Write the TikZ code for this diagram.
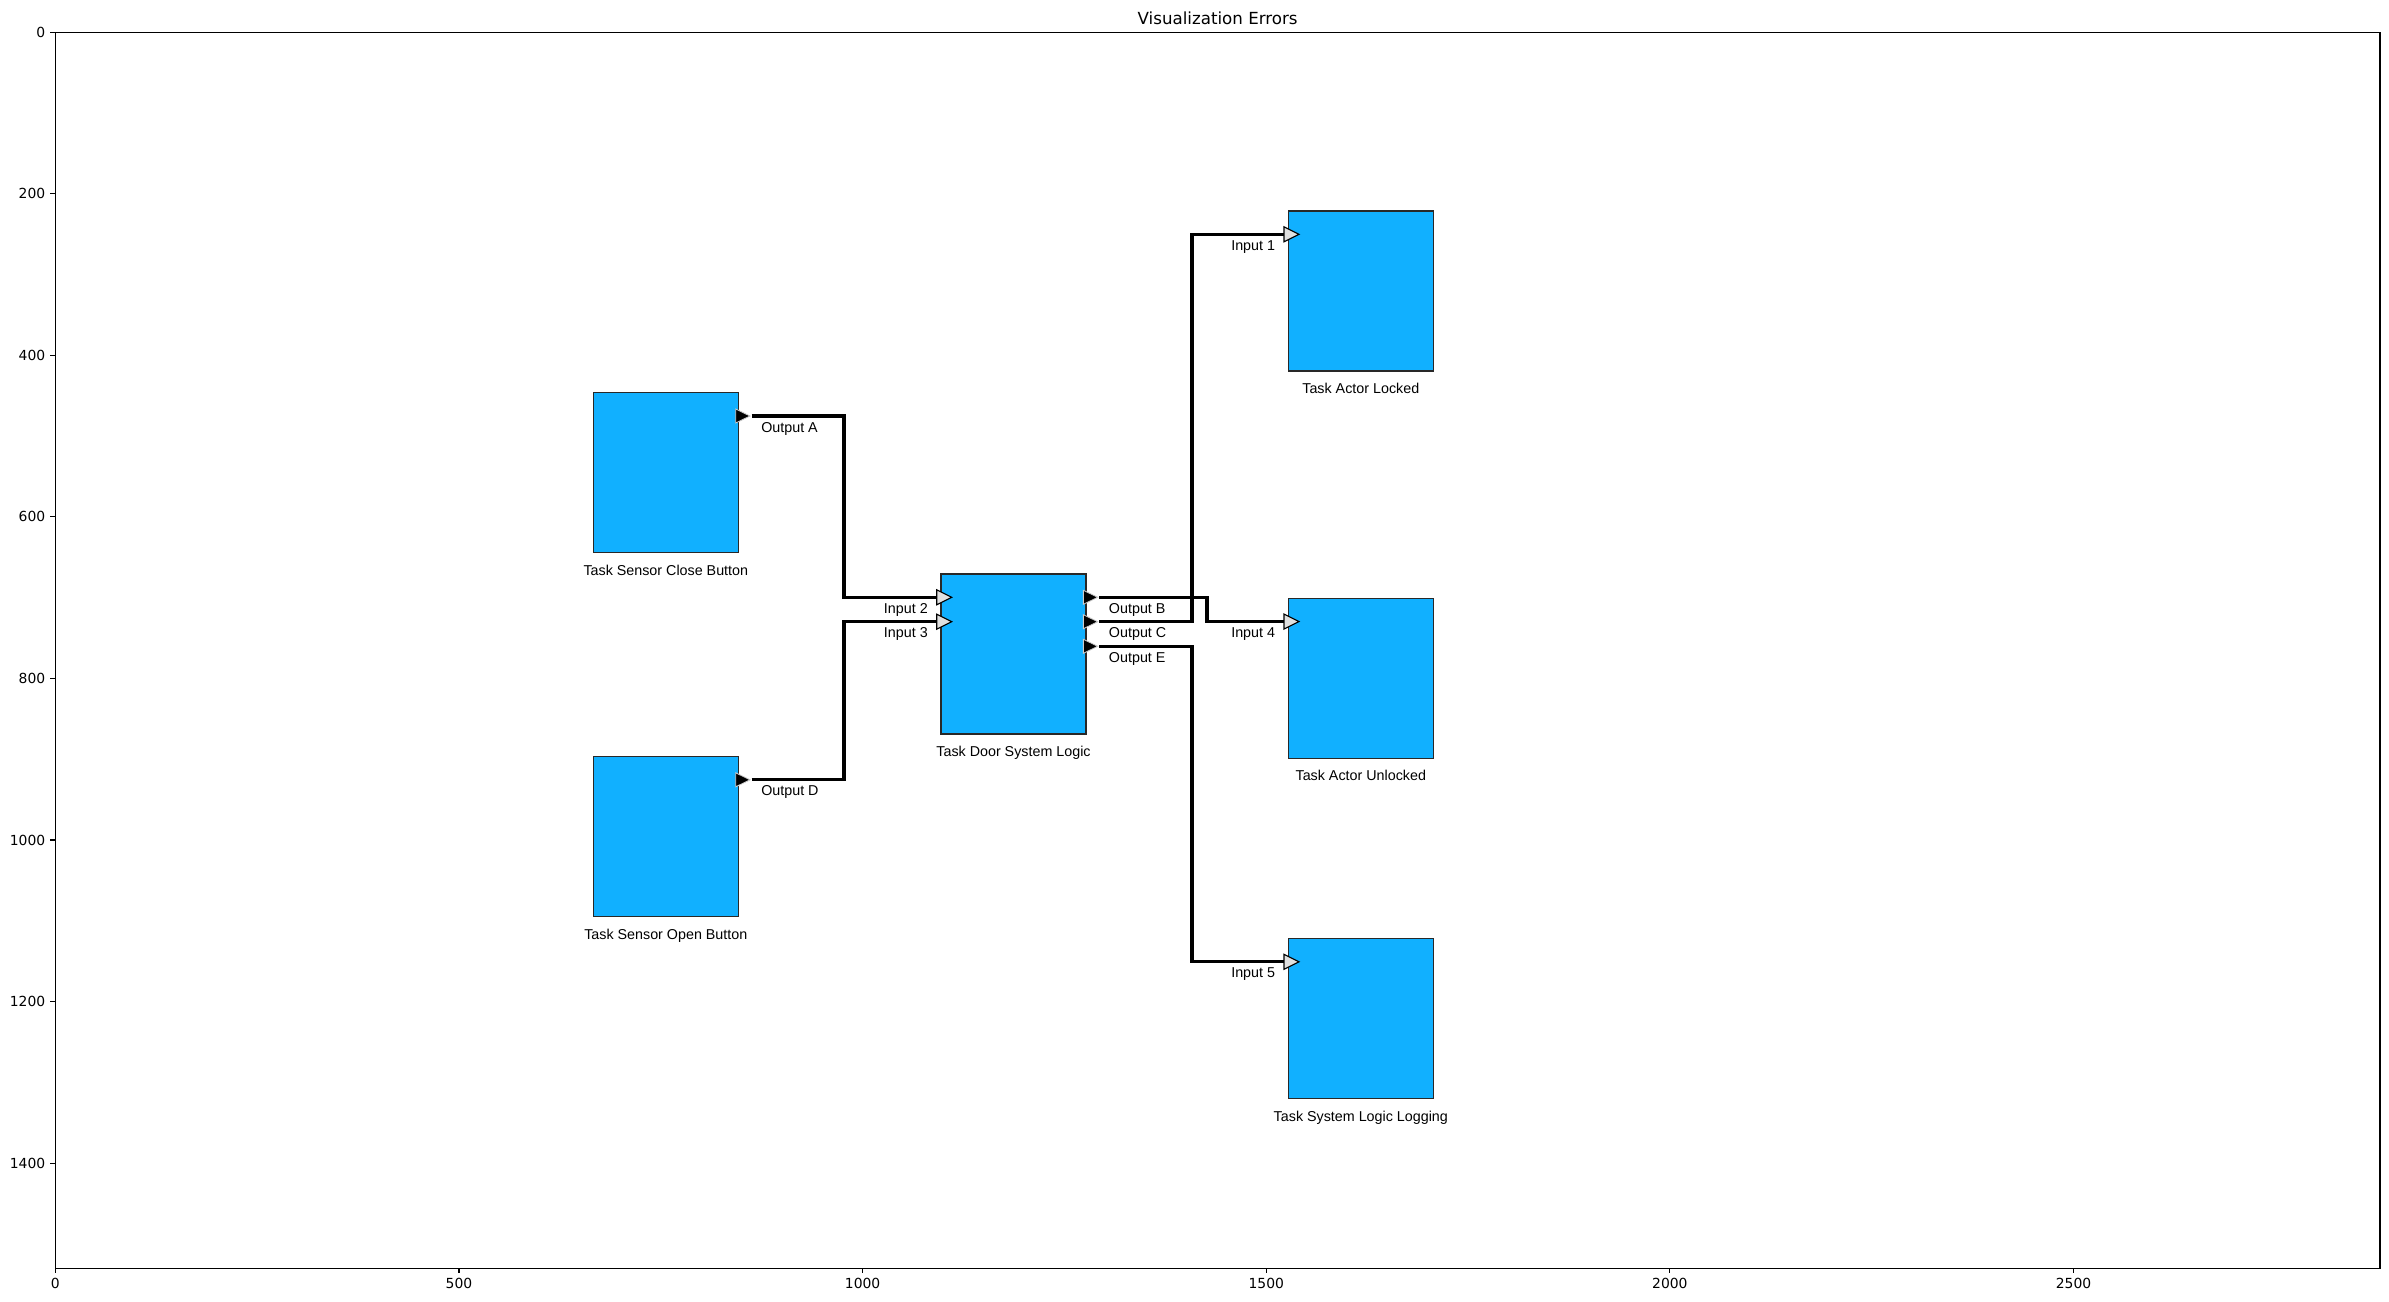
\documentclass[tikz,border=0pt]{standalone}
\usepackage{fontspec}
\setmainfont{DejaVu Sans}
\newfontfamily\arialf{Liberation Sans}
\usetikzlibrary{calc}
\definecolor{taskblue}{RGB}{17,176,255}
\definecolor{boxedge}{RGB}{40,40,40}
\begin{document}
\begin{tikzpicture}[x=0.72pt,y=-0.72pt,
 taskbox/.style={draw=boxedge,fill=taskblue,line width=1pt,minimum width=104.4pt,minimum height=115.2pt,inner sep=0pt,outer sep=0pt,anchor=north west},
 wire/.style={line width=2.4pt,black},
 outtri/.style={fill=black,draw=white!80!black,line width=0.6pt},
 intri/.style={fill=white!88!black,draw=black,line width=0.8pt},
 plabel/.style={font=\arialf\fontsize{10.3}{12}\selectfont,inner sep=0pt},
 axtick/.style={line width=0.8pt},
 ticklabel/.style={font=\fontsize{10}{12}\selectfont,inner sep=0pt},
 outport/.pic={\draw[outtri] (-2.6,-7) -- (11.7,0) -- (-2.6,7) -- cycle;},
 inport/.pic={\draw[intri] (-4.3,-7.5) -- (10.7,0) -- (-4.3,7.5) -- cycle;}]

\useasboundingbox (0,0) rectangle (2389,1302);
\fill[white] (0,0) rectangle (2389,1302);

% axes frame, ticks, title
\draw[line width=0.8pt] (55.3,32.3) rectangle (2380,1268.3);
\foreach \v in {0,500,...,2500} {
  \draw[axtick] ({55.3+0.8073*\v},1268.3) -- ++(0,4.9);
  \node[ticklabel,anchor=north] (xt\v) at ({55.3+0.8073*\v},1278.1) {\v};
}
\foreach \v in {0,200,...,1400} {
  \draw[axtick] (55.3,{32.3+0.8077*\v}) -- ++(-4.9,0);
  \node[ticklabel,anchor=east] (yt\v) at (45.5,{32.3+0.8077*\v}) {\v};
}
\node[font=\fontsize{12}{14}\selectfont,anchor=base,inner sep=0pt] (title) at (1217.6,24) {Visualization Errors};

% boxes
\node[taskbox] (close) at (593.3,392.7) {};
\node[taskbox] (open) at (593.3,756.5) {};
\node[taskbox] (door) at (941,574) {};
\node[taskbox] (lock) at (1288.3,211) {};
\node[taskbox] (unlock) at (1288.3,598.3) {};
\node[taskbox] (logging) at (1288.3,938.5) {};

% box labels
\node[plabel,anchor=base] (tclose) at ($(close.south)+(0,22.5)$) {Task Sensor Close Button};
\node[plabel,anchor=base] (topen) at ($(open.south)+(0,22.5)$) {Task Sensor Open Button};
\node[plabel,anchor=base] (tdoor) at ($(door.south)+(0,22.5)$) {Task Door System Logic};
\node[plabel,anchor=base] (tlock) at ($(lock.south)+(0,22.5)$) {Task Actor Locked};
\node[plabel,anchor=base] (tunlock) at ($(unlock.south)+(0,22.5)$) {Task Actor Unlocked};
\node[plabel,anchor=base] (tlogging) at ($(logging.south)+(0,22.5)$) {Task System Logic Logging};

% port points
\coordinate (pA) at ($(close.north east)+(0,23.3)$);
\coordinate (pD) at ($(open.north east)+(0,23.3)$);
\coordinate (pB) at ($(door.north east)+(0,23.3)$);
\coordinate (pC) at ($(door.north east)+(0,47.7)$);
\coordinate (pE) at ($(door.north east)+(0,72.3)$);
\coordinate (p2) at ($(door.north west)+(0,23.3)$);
\coordinate (p3) at ($(door.north west)+(0,47.7)$);
\coordinate (p1) at ($(lock.north west)+(0,23.3)$);
\coordinate (p4) at ($(unlock.north west)+(0,23.3)$);
\coordinate (p5) at ($(logging.north west)+(0,23.3)$);

% wire ends
\coordinate (oA) at ($(pA)+(13.4,0)$);
\coordinate (oD) at ($(pD)+(13.4,0)$);
\coordinate (oB) at ($(pB)+(13.4,0)$);
\coordinate (oC) at ($(pC)+(13.4,0)$);
\coordinate (oE) at ($(pE)+(13.4,0)$);
\coordinate (i1) at ($(p1)+(-4.3,0)$);
\coordinate (i2) at ($(p2)+(-4.3,0)$);
\coordinate (i3) at ($(p3)+(-4.3,0)$);
\coordinate (i4) at ($(p4)+(-4.3,0)$);
\coordinate (i5) at ($(p5)+(-4.3,0)$);

% wires
\draw[wire] (oA) -- ++(92.3,0) |- (i2);
\draw[wire] (oD) -- ++(92.3,0) |- (i3);
\draw[wire] (oB) -- ++(107.7,0) |- (i4);
\draw[wire] (oC) -- ++(92.7,0) |- (i1);
\draw[wire] (oE) -- ++(92.7,0) |- (i5);

% port triangles
\pic at (pA) {outport};
\pic at (pD) {outport};
\pic at (pB) {outport};
\pic at (pC) {outport};
\pic at (pE) {outport};
\pic at (p1) {inport};
\pic at (p2) {inport};
\pic at (p3) {inport};
\pic at (p4) {inport};
\pic at (p5) {inport};

% port labels
\node[plabel,anchor=base west] (lA) at ($(oA)+(9.3,16)$) {Output A};
\node[plabel,anchor=base west] (lD) at ($(oD)+(9.3,16)$) {Output D};
\node[plabel,anchor=base west] (lB) at ($(oB)+(9.3,16)$) {Output B};
\node[plabel,anchor=base west] (lC) at ($(oC)+(9.3,16)$) {Output C};
\node[plabel,anchor=base west] (lE) at ($(oE)+(9.3,16)$) {Output E};
\node[plabel,anchor=base east] (l1) at ($(i1)+(-8.7,16)$) {Input 1};
\node[plabel,anchor=base east] (l2) at ($(i2)+(-8.7,16)$) {Input 2};
\node[plabel,anchor=base east] (l3) at ($(i3)+(-8.7,16)$) {Input 3};
\node[plabel,anchor=base east] (l4) at ($(i4)+(-8.7,16)$) {Input 4};
\node[plabel,anchor=base east] (l5) at ($(i5)+(-8.7,16)$) {Input 5};
\end{tikzpicture}
\end{document}
